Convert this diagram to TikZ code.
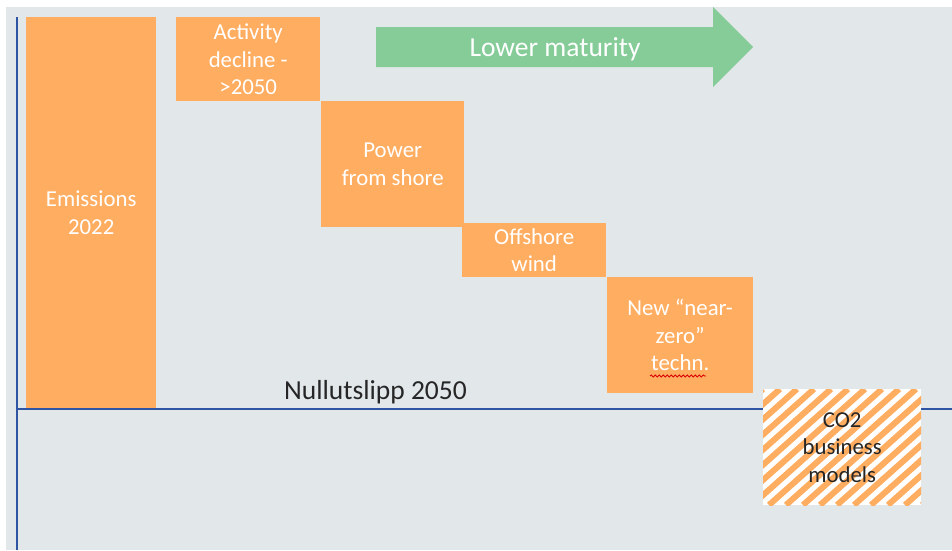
\documentclass[tikz,border=0pt]{standalone}
\usepackage{fontspec}
\setmainfont{Carlito}
\usetikzlibrary{decorations.pathmorphing}
\definecolor{panel}{HTML}{E2E7EA}
\definecolor{barorange}{HTML}{FFAD60}
\definecolor{arrowgreen}{HTML}{86CC98}
\definecolor{axisblue}{HTML}{2F54A4}
\begin{document}
\begin{tikzpicture}[x=1pt,y=-1pt,
  bar/.style={fill=barorange, draw=none, inner sep=0pt, anchor=north west,
    text=white, align=center, font=\fontsize{22.8}{27.5}\selectfont},
  axis/.style={draw=axisblue, line width=2pt}]
\useasboundingbox (0,0) rectangle (952,550);
\fill[white] (0,0) rectangle (952,550);
\fill[panel] (6,7) rectangle (952,550);

% axes
\coordinate (ytop) at (16.5,17);
\coordinate (ybot) at (16.5,550);
\coordinate (xleft) at (16.5,408.5);
\coordinate (xright) at (952,408.5);
\draw[axis] (ytop) -- (ybot);
\draw[axis] (xleft) -- (xright);

% waterfall bars
\node[bar, minimum width=130, minimum height=391] (emis) at (26,17) {Emissions\\2022};
\node[bar, minimum width=144, minimum height=84] (activity) at (176,17) {Activity\\decline -\\>2050};
\node[bar, minimum width=143, minimum height=126] (power) at (321,101) {Power\\from shore};
\node[bar, minimum width=144, minimum height=54] (offshore) at (462,223) {Offshore\\wind};
\node[bar, minimum width=146, minimum height=116] (nearzero) at (607,277) {New “near-\\zero”\\techn.};

% spelling squiggle under "techn."
\coordinate (sqa) at (650,376);
\coordinate (sqb) at (706,376);
\draw[red!85!black, line width=0.8pt, decorate,
  decoration={snake, amplitude=1.1pt, segment length=4pt}] (sqa) -- (sqb);

% hatched CO2 box
\begin{scope}
  \clip (763,389) rectangle (921,505);
  \fill[white] (763,389) rectangle (921,505);
  \foreach \k in {0,...,18} {
    \draw[barorange, line width=6pt] (763+\k*17-130,505) -- (763+\k*17,389);
  }
\end{scope}
\node[inner sep=0pt, minimum width=158, minimum height=116, anchor=north west,
  align=center, text=black!85, font=\fontsize{22.8}{27.5}\selectfont]
  (co2) at (763,389) {CO2\\business\\models};

% zero-emission label
\node[anchor=base, inner sep=0pt, text=black!85, font=\fontsize{27.5}{32}\selectfont]
  (nullut) at (375.5,399) {Nullutslipp 2050};

% maturity arrow
\fill[arrowgreen] (376,27) -- (713,27) -- (713,7) -- (753,47) -- (713,87) -- (713,67) -- (376,67) -- cycle;
\node[anchor=base, inner sep=0pt, text=white, font=\fontsize{27.5}{32}\selectfont]
  (maturity) at (555,56) {Lower maturity};
\end{tikzpicture}
\end{document}
